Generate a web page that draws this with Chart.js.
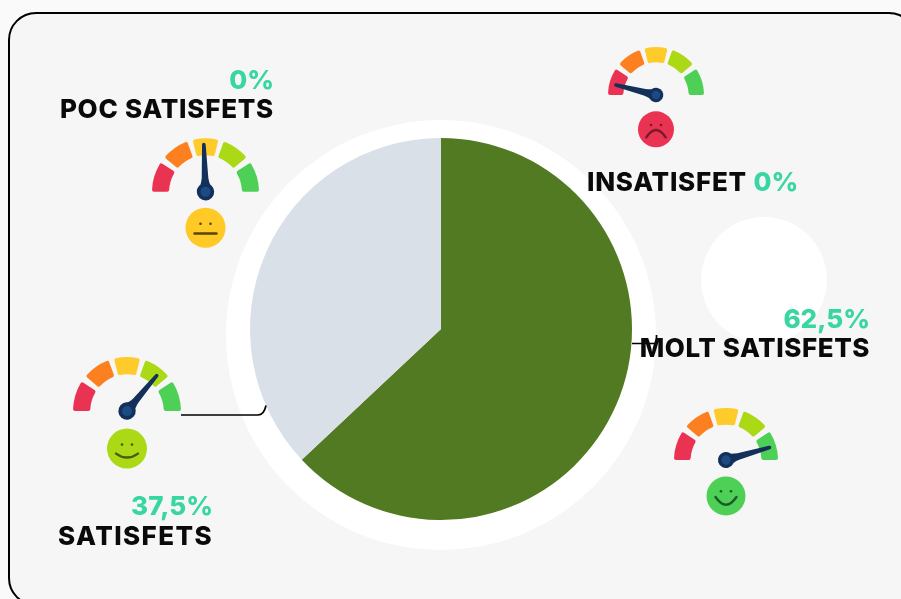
<!DOCTYPE html>
<html>
<head>
<meta charset="utf-8">
<title>Satisfacció</title>
<script src="https://cdn.jsdelivr.net/npm/chart.js@4"></script>
<style>
  html, body { margin: 0; padding: 0; width: 901px; height: 599px; overflow: hidden; background: #fafafa; }
  .card { position: absolute; left: 8px; top: 12px; width: 909px; height: 594px; box-sizing: border-box; border: 2px solid #000; border-radius: 28px; background: #f6f6f6; }
  .blob { position: absolute; border-radius: 50%; background: #fff; }
  canvas { position: absolute; }
  .txt { position: absolute; font-family: Inter, sans-serif; font-weight: 800; font-size: 26px; letter-spacing: 0.75px; line-height: 30px; white-space: nowrap; color: #0a0a0a; }
  .pct { color: #38d6a3; letter-spacing: 0; }
</style>
</head>
<body>
<div class="card"></div>
<div class="blob" style="left:226px;top:120px;width:430px;height:430px"></div>
<div class="blob" style="left:701px;top:217px;width:126px;height:126px"></div>
<canvas id="pie" width="901" height="599" style="left:0;top:0"></canvas>
<div id="labels"></div>
<script>
const categories = ['Molt satisfets', 'Satisfets', 'Poc satisfets', 'Insatisfet'];
// percentages as printed on the picture
const shares = [62.5, 37.5, 0, 0];
// slices as measured on the picture, the split sits a bit past the printed 62,5
const sliceValues = [63, 37, 0, 0];
const sliceColors = ['#527a22', '#dae0e7', '#ffcb2b', '#ea3352'];

// gauge dial, degrees: band, gap, band...
const gaugeBands = [33, 7, 30, 6, 28, 6, 30, 7, 33];
const bandColors = ['#ea3352', 'transparent', '#fd8020', 'transparent', '#ffcb2b', 'transparent', '#acd916', 'transparent', '#4ed056'];
// needle reading per category, degrees from the left end of the dial
const needleReadings = [164, 130, 88, 14];

const gaugeLayout = [
  { cx: 725.8, cy: 460.3, r: 52, hub: 8, len: 47, faceY: 36, faceR: 19.5, face: '#4ed056', ink: '#1c5a2a', eyeY: -4.7, mouthEnd: 1, mouthLow: 8.7, mouthW: 10.5 },
  { cx: 126.8, cy: 410.7, r: 54, hub: 8.7, len: 48, faceY: 37.6, faceR: 20, face: '#acd916', ink: '#4a5c10', eyeY: -4, mouthEnd: 5, mouthLow: 9, mouthW: 11 },
  { cx: 205.6, cy: 192, r: 53.5, hub: 8.7, len: 49, faceY: 36, faceR: 20, face: '#ffc926', ink: '#5a4310', eyeY: -4, mouthEnd: 5.7, mouthLow: 5.7, mouthW: 11 },
  { cx: 656.4, cy: 95, r: 48, hub: 7.3, len: 43, faceY: 34.3, faceR: 18, face: '#ea3352', ink: '#7a1a28', eyeY: -4.3, mouthEnd: 8, mouthLow: 0.7, mouthW: 9.7 }
];

const labelLayout = [
  { right: 31, pctTop: 304, nameTop: 333, spacing: 0.55 },
  { right: 688, pctTop: 491, nameTop: 521, spacing: 1.4 },
  { right: 627, pctTop: 65, nameTop: 94, spacing: 0.75 }
];

function formatShare(v) {
  return String(v).replace('.', ',') + '%';
}

function addLabel(text, cls, right, top, spacing) {
  const el = document.createElement('div');
  el.className = 'txt ' + cls;
  el.style.right = right + 'px';
  el.style.top = top + 'px';
  if (spacing) el.style.letterSpacing = spacing + 'px';
  el.textContent = text;
  document.getElementById('labels').appendChild(el);
}

function buildLabels() {
  labelLayout.forEach((l, i) => {
    addLabel(formatShare(shares[i]), 'pct', l.right, l.pctTop);
    addLabel(categories[i].toUpperCase(), '', l.right, l.nameTop, l.spacing);
  });
  const last = document.createElement('div');
  last.className = 'txt';
  last.style.left = '587px';
  last.style.top = '167px';
  last.textContent = categories[3].toUpperCase() + ' ';
  const pct = document.createElement('span');
  pct.className = 'pct';
  pct.textContent = formatShare(shares[3]);
  last.appendChild(pct);
  document.getElementById('labels').appendChild(last);
}

const connectors = {
  id: 'connectors',
  afterDraw(chart) {
    const c = chart.ctx;
    c.save();
    c.strokeStyle = '#000';
    c.lineWidth = 1.7;
    c.beginPath();
    c.moveTo(181, 415);
    c.lineTo(258, 415);
    c.quadraticCurveTo(264, 415, 266, 405.5);
    c.moveTo(632, 343.5);
    c.lineTo(656.5, 343.5);
    c.lineTo(656.5, 335);
    c.stroke();
    c.restore();
  }
};

function initPie() {
  new Chart(document.getElementById('pie'), {
    type: 'pie',
    data: {
      labels: categories,
      datasets: [{ data: sliceValues, backgroundColor: sliceColors, borderWidth: 0 }]
    },
    options: {
      responsive: false,
      animation: false,
      layout: { padding: { left: 250, right: 269, top: 138, bottom: 79 } },
      plugins: { legend: { display: false }, tooltip: { enabled: false } }
    },
    plugins: [connectors]
  });
}

const dialDecor = {
  id: 'dialDecor',
  afterDatasetsDraw(chart, args, opts) {
    const g = opts.layout;
    const c = chart.ctx;
    const arc = chart.getDatasetMeta(0).data[0];
    const x = arc.x;
    const y = arc.y;
    const a = Math.PI + opts.reading * Math.PI / 180;

    // face
    const fy = y + g.faceY;
    c.save();
    c.fillStyle = g.face;
    c.beginPath();
    c.arc(x, fy, g.faceR, 0, Math.PI * 2);
    c.fill();
    c.fillStyle = g.ink;
    [-5, 5].forEach(dx => {
      c.beginPath();
      c.arc(x + dx, fy + g.eyeY, 1.3, 0, Math.PI * 2);
      c.fill();
    });
    c.strokeStyle = g.ink;
    c.lineWidth = 2.4;
    c.lineCap = 'round';
    c.beginPath();
    c.moveTo(x - g.mouthW, fy + g.mouthEnd);
    c.quadraticCurveTo(x, fy + 2 * g.mouthLow - g.mouthEnd, x + g.mouthW, fy + g.mouthEnd);
    c.stroke();
    c.restore();

    // needle
    c.save();
    c.translate(x, y);
    c.rotate(a);
    c.fillStyle = '#12305a';
    c.beginPath();
    c.moveTo(0, -g.hub * 0.85);
    c.quadraticCurveTo(g.hub, -3.8, g.hub * 1.6, -3.3);
    c.lineTo(g.len - 1.8, -1.8);
    c.arc(g.len - 1.8, 0, 1.8, -Math.PI / 2, Math.PI / 2);
    c.lineTo(g.hub * 1.6, 3.3);
    c.quadraticCurveTo(g.hub, 3.8, 0, g.hub * 0.85);
    c.closePath();
    c.fill();
    c.beginPath();
    c.arc(0, 0, g.hub, 0, Math.PI * 2);
    c.fill();
    c.fillStyle = '#1c4a82';
    c.beginPath();
    c.arc(0, 0, g.hub * 0.58, 0, Math.PI * 2);
    c.fill();
    c.restore();
  }
};

function addGauge(g, reading) {
  const canvas = document.createElement('canvas');
  const w = Math.ceil(2 * g.r + 4);
  const h = Math.ceil(g.r + 130);
  canvas.width = w;
  canvas.height = h;
  canvas.style.left = (g.cx - w / 2) + 'px';
  canvas.style.top = (g.cy - (h / 2 + g.r / 2)) + 'px';
  document.body.appendChild(canvas);
  new Chart(canvas, {
    type: 'doughnut',
    data: {
      datasets: [{ data: gaugeBands, backgroundColor: bandColors, borderWidth: 0, borderRadius: 2 }]
    },
    options: {
      responsive: false,
      animation: false,
      rotation: -90,
      circumference: 180,
      radius: g.r,
      cutout: '68%',
      plugins: {
        legend: { display: false },
        tooltip: { enabled: false },
        dialDecor: { layout: g, reading: reading }
      }
    },
    plugins: [dialDecor]
  });
}

initPie();
gaugeLayout.forEach((g, i) => addGauge(g, needleReadings[i]));
buildLabels();
</script>
</body>
</html>
